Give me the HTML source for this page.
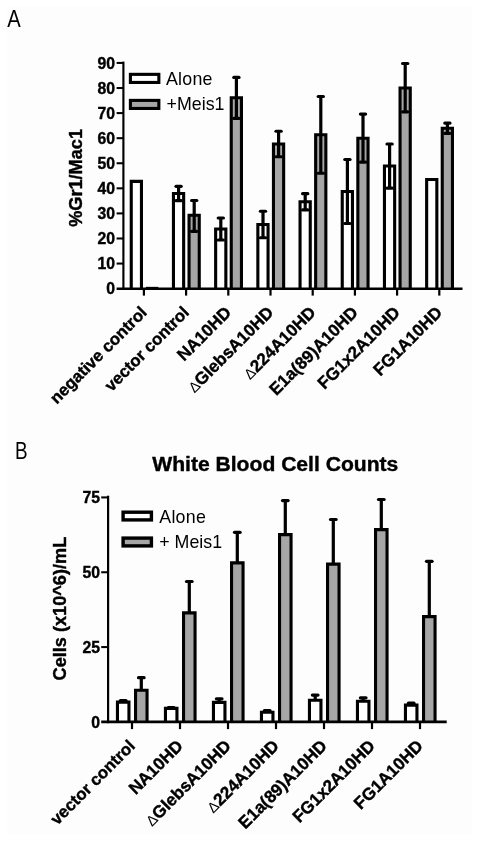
<!DOCTYPE html>
<html><head><meta charset="utf-8"><title>Figure</title>
<style>
html,body{margin:0;padding:0;background:#fff;}
body{width:480px;height:844px;overflow:hidden;font-family:"Liberation Sans",sans-serif;}
svg{display:block;will-change:transform;}
text{font-family:"Liberation Sans",sans-serif;fill:#000;}
.b{font-weight:bold;stroke:#000;stroke-width:0.4px;}
</style></head><body>
<svg width="480" height="844" viewBox="0 0 480 844">
<rect x="0" y="0" width="480" height="844" fill="#ffffff"/>
<rect x="7" y="7" width="465.5" height="827.5" fill="#fdfdfd"/>

<text transform="translate(7.2,26.7) scale(0.835,1)" font-size="24.2">A</text>
<text transform="translate(15.0,458.7) scale(0.78,1)" font-size="24.2">B</text>
<path d="M131.25,288.65V181.40H141.45V288.65" fill="#fff" stroke="#000" stroke-width="3.1" stroke-linejoin="miter"/>
<line x1="145.8" y1="287.54999999999995" x2="158.3" y2="287.54999999999995" stroke="#000" stroke-width="1.4"/>
<path d="M173.45,288.65V193.50H183.65V288.65" fill="#fff" stroke="#000" stroke-width="3.1" stroke-linejoin="miter"/>
<path d="M189.05,288.65V215.30H199.25V288.65" fill="#a6a6a6" stroke="#000" stroke-width="3.1" stroke-linejoin="miter"/>
<line x1="178.60" y1="186.30" x2="178.60" y2="200.70" stroke="#000" stroke-width="3.2"/>
<line x1="176.00" y1="186.30" x2="181.20" y2="186.30" stroke="#000" stroke-width="3.2" stroke-linecap="round"/>
<line x1="176.00" y1="200.70" x2="181.20" y2="200.70" stroke="#000" stroke-width="3.2" stroke-linecap="round"/>
<line x1="194.20" y1="200.50" x2="194.20" y2="231.30" stroke="#000" stroke-width="3.2"/>
<line x1="191.60" y1="200.50" x2="196.80" y2="200.50" stroke="#000" stroke-width="3.2" stroke-linecap="round"/>
<line x1="191.60" y1="231.30" x2="196.80" y2="231.30" stroke="#000" stroke-width="3.2" stroke-linecap="round"/>
<path d="M215.65,288.65V229.00H225.85V288.65" fill="#fff" stroke="#000" stroke-width="3.1" stroke-linejoin="miter"/>
<path d="M231.25,288.65V97.80H241.45V288.65" fill="#a6a6a6" stroke="#000" stroke-width="3.1" stroke-linejoin="miter"/>
<line x1="220.80" y1="218.00" x2="220.80" y2="240.00" stroke="#000" stroke-width="3.2"/>
<line x1="218.20" y1="218.00" x2="223.40" y2="218.00" stroke="#000" stroke-width="3.2" stroke-linecap="round"/>
<line x1="218.20" y1="240.00" x2="223.40" y2="240.00" stroke="#000" stroke-width="3.2" stroke-linecap="round"/>
<line x1="236.40" y1="77.40" x2="236.40" y2="118.40" stroke="#000" stroke-width="3.2"/>
<line x1="233.80" y1="77.40" x2="239.00" y2="77.40" stroke="#000" stroke-width="3.2" stroke-linecap="round"/>
<line x1="233.80" y1="118.40" x2="239.00" y2="118.40" stroke="#000" stroke-width="3.2" stroke-linecap="round"/>
<path d="M257.85,288.65V224.50H268.05V288.65" fill="#fff" stroke="#000" stroke-width="3.1" stroke-linejoin="miter"/>
<path d="M273.45,288.65V144.00H283.65V288.65" fill="#a6a6a6" stroke="#000" stroke-width="3.1" stroke-linejoin="miter"/>
<line x1="263.00" y1="211.25" x2="263.00" y2="237.75" stroke="#000" stroke-width="3.2"/>
<line x1="260.40" y1="211.25" x2="265.60" y2="211.25" stroke="#000" stroke-width="3.2" stroke-linecap="round"/>
<line x1="260.40" y1="237.75" x2="265.60" y2="237.75" stroke="#000" stroke-width="3.2" stroke-linecap="round"/>
<line x1="278.60" y1="131.25" x2="278.60" y2="156.75" stroke="#000" stroke-width="3.2"/>
<line x1="276.00" y1="131.25" x2="281.20" y2="131.25" stroke="#000" stroke-width="3.2" stroke-linecap="round"/>
<line x1="276.00" y1="156.75" x2="281.20" y2="156.75" stroke="#000" stroke-width="3.2" stroke-linecap="round"/>
<path d="M300.05,288.65V201.70H310.25V288.65" fill="#fff" stroke="#000" stroke-width="3.1" stroke-linejoin="miter"/>
<path d="M315.65,288.65V134.75H325.85V288.65" fill="#a6a6a6" stroke="#000" stroke-width="3.1" stroke-linejoin="miter"/>
<line x1="305.20" y1="193.70" x2="305.20" y2="209.90" stroke="#000" stroke-width="3.2"/>
<line x1="302.60" y1="193.70" x2="307.80" y2="193.70" stroke="#000" stroke-width="3.2" stroke-linecap="round"/>
<line x1="302.60" y1="209.90" x2="307.80" y2="209.90" stroke="#000" stroke-width="3.2" stroke-linecap="round"/>
<line x1="320.80" y1="96.50" x2="320.80" y2="173.25" stroke="#000" stroke-width="3.2"/>
<line x1="318.20" y1="96.50" x2="323.40" y2="96.50" stroke="#000" stroke-width="3.2" stroke-linecap="round"/>
<line x1="318.20" y1="173.25" x2="323.40" y2="173.25" stroke="#000" stroke-width="3.2" stroke-linecap="round"/>
<path d="M342.25,288.65V191.50H352.45V288.65" fill="#fff" stroke="#000" stroke-width="3.1" stroke-linejoin="miter"/>
<path d="M357.85,288.65V138.20H368.05V288.65" fill="#a6a6a6" stroke="#000" stroke-width="3.1" stroke-linejoin="miter"/>
<line x1="347.40" y1="159.50" x2="347.40" y2="223.50" stroke="#000" stroke-width="3.2"/>
<line x1="344.80" y1="159.50" x2="350.00" y2="159.50" stroke="#000" stroke-width="3.2" stroke-linecap="round"/>
<line x1="344.80" y1="223.50" x2="350.00" y2="223.50" stroke="#000" stroke-width="3.2" stroke-linecap="round"/>
<line x1="363.00" y1="114.10" x2="363.00" y2="162.20" stroke="#000" stroke-width="3.2"/>
<line x1="360.40" y1="114.10" x2="365.60" y2="114.10" stroke="#000" stroke-width="3.2" stroke-linecap="round"/>
<line x1="360.40" y1="162.20" x2="365.60" y2="162.20" stroke="#000" stroke-width="3.2" stroke-linecap="round"/>
<path d="M384.45,288.65V166.00H394.65V288.65" fill="#fff" stroke="#000" stroke-width="3.1" stroke-linejoin="miter"/>
<path d="M400.05,288.65V88.00H410.25V288.65" fill="#a6a6a6" stroke="#000" stroke-width="3.1" stroke-linejoin="miter"/>
<line x1="389.60" y1="144.00" x2="389.60" y2="188.20" stroke="#000" stroke-width="3.2"/>
<line x1="387.00" y1="144.00" x2="392.20" y2="144.00" stroke="#000" stroke-width="3.2" stroke-linecap="round"/>
<line x1="387.00" y1="188.20" x2="392.20" y2="188.20" stroke="#000" stroke-width="3.2" stroke-linecap="round"/>
<line x1="405.20" y1="63.50" x2="405.20" y2="111.80" stroke="#000" stroke-width="3.2"/>
<line x1="402.60" y1="63.50" x2="407.80" y2="63.50" stroke="#000" stroke-width="3.2" stroke-linecap="round"/>
<line x1="402.60" y1="111.80" x2="407.80" y2="111.80" stroke="#000" stroke-width="3.2" stroke-linecap="round"/>
<path d="M426.65,288.65V179.50H436.85V288.65" fill="#fff" stroke="#000" stroke-width="3.1" stroke-linejoin="miter"/>
<path d="M442.25,288.65V128.30H452.45V288.65" fill="#a6a6a6" stroke="#000" stroke-width="3.1" stroke-linejoin="miter"/>
<line x1="447.40" y1="123.10" x2="447.40" y2="133.30" stroke="#000" stroke-width="3.2"/>
<line x1="444.80" y1="123.10" x2="450.00" y2="123.10" stroke="#000" stroke-width="3.2" stroke-linecap="round"/>
<line x1="444.80" y1="133.30" x2="450.00" y2="133.30" stroke="#000" stroke-width="3.2" stroke-linecap="round"/>
<line x1="123.4" y1="61.6" x2="123.4" y2="289.9" stroke="#000" stroke-width="2.15"/>
<line x1="116.6" y1="288.65" x2="462.5" y2="288.65" stroke="#000" stroke-width="2.5"/>
<line x1="116.6" y1="263.57" x2="123.4" y2="263.57" stroke="#000" stroke-width="2.05"/>
<line x1="116.6" y1="238.49" x2="123.4" y2="238.49" stroke="#000" stroke-width="2.05"/>
<line x1="116.6" y1="213.41" x2="123.4" y2="213.41" stroke="#000" stroke-width="2.05"/>
<line x1="116.6" y1="188.33" x2="123.4" y2="188.33" stroke="#000" stroke-width="2.05"/>
<line x1="116.6" y1="163.25" x2="123.4" y2="163.25" stroke="#000" stroke-width="2.05"/>
<line x1="116.6" y1="138.17" x2="123.4" y2="138.17" stroke="#000" stroke-width="2.05"/>
<line x1="116.6" y1="113.09" x2="123.4" y2="113.09" stroke="#000" stroke-width="2.05"/>
<line x1="116.6" y1="88.01" x2="123.4" y2="88.01" stroke="#000" stroke-width="2.05"/>
<line x1="116.6" y1="62.93" x2="123.4" y2="62.93" stroke="#000" stroke-width="2.05"/>
<line x1="143.90" y1="288.65" x2="143.90" y2="295.6" stroke="#000" stroke-width="2.2"/>
<line x1="186.10" y1="288.65" x2="186.10" y2="295.6" stroke="#000" stroke-width="2.2"/>
<line x1="228.30" y1="288.65" x2="228.30" y2="295.6" stroke="#000" stroke-width="2.2"/>
<line x1="270.50" y1="288.65" x2="270.50" y2="295.6" stroke="#000" stroke-width="2.2"/>
<line x1="312.70" y1="288.65" x2="312.70" y2="295.6" stroke="#000" stroke-width="2.2"/>
<line x1="354.90" y1="288.65" x2="354.90" y2="295.6" stroke="#000" stroke-width="2.2"/>
<line x1="397.10" y1="288.65" x2="397.10" y2="295.6" stroke="#000" stroke-width="2.2"/>
<line x1="439.30" y1="288.65" x2="439.30" y2="295.6" stroke="#000" stroke-width="2.2"/>
<text class="b" transform="translate(115.0,294.45) scale(0.95,1)" font-size="16.6" text-anchor="end">0</text>
<text class="b" transform="translate(115.0,269.37) scale(0.95,1)" font-size="16.6" text-anchor="end">10</text>
<text class="b" transform="translate(115.0,244.29) scale(0.95,1)" font-size="16.6" text-anchor="end">20</text>
<text class="b" transform="translate(115.0,219.21) scale(0.95,1)" font-size="16.6" text-anchor="end">30</text>
<text class="b" transform="translate(115.0,194.13) scale(0.95,1)" font-size="16.6" text-anchor="end">40</text>
<text class="b" transform="translate(115.0,169.05) scale(0.95,1)" font-size="16.6" text-anchor="end">50</text>
<text class="b" transform="translate(115.0,143.97) scale(0.95,1)" font-size="16.6" text-anchor="end">60</text>
<text class="b" transform="translate(115.0,118.89) scale(0.95,1)" font-size="16.6" text-anchor="end">70</text>
<text class="b" transform="translate(115.0,93.81) scale(0.95,1)" font-size="16.6" text-anchor="end">80</text>
<text class="b" transform="translate(115.0,68.73) scale(0.95,1)" font-size="16.6" text-anchor="end">90</text>
<text class="b" transform="translate(81.7,177.9) rotate(-90)" font-size="18.15" text-anchor="middle">%Gr1/Mac1</text>
<rect x="130.4" y="74.35" width="28.45" height="8.1" fill="#fff" stroke="#000" stroke-width="3.1"/>
<rect x="130.4" y="100.4" width="28.45" height="8.05" fill="#a6a6a6" stroke="#000" stroke-width="3.1"/>
<text x="166" y="84.8" font-size="17.8" letter-spacing="0.25">Alone</text>
<text x="166.6" y="110.2" font-size="17.8">+Meis1</text>
<text class="b" transform="translate(147.90,313.50) rotate(-45)" font-size="16.7" text-anchor="end">negative control</text>
<text class="b" transform="translate(190.10,313.50) rotate(-45)" font-size="16.7" text-anchor="end">vector control</text>
<text class="b" transform="translate(232.30,313.50) rotate(-45)" font-size="17.1" text-anchor="end">NA10HD</text>
<text class="b" transform="translate(274.50,313.50) rotate(-45)" font-size="17.1" text-anchor="end"><tspan font-weight="normal" font-size="14.6" stroke="none">Δ</tspan>GlebsA10HD</text>
<text class="b" transform="translate(316.70,313.50) rotate(-45)" font-size="17.1" text-anchor="end"><tspan font-weight="normal" font-size="14.6" stroke="none">Δ</tspan>224A10HD</text>
<text class="b" transform="translate(358.90,313.50) rotate(-45)" font-size="17.1" text-anchor="end">E1a(89)A10HD</text>
<text class="b" transform="translate(401.10,313.50) rotate(-45)" font-size="17.1" text-anchor="end">FG1x2A10HD</text>
<text class="b" transform="translate(443.30,313.50) rotate(-45)" font-size="17.1" text-anchor="end">FG1A10HD</text>
<text class="b" x="275.3" y="470.6" font-size="21.1" text-anchor="middle">White Blood Cell Counts</text>
<path d="M117.45,721.90V702.10H128.95V721.90" fill="#fff" stroke="#000" stroke-width="3.1" stroke-linejoin="miter"/>
<path d="M135.55,721.90V690.20H147.05V721.90" fill="#a6a6a6" stroke="#000" stroke-width="3.1" stroke-linejoin="miter"/>
<line x1="123.20" y1="700.50" x2="123.20" y2="702.10" stroke="#000" stroke-width="3.2"/>
<line x1="120.40" y1="700.50" x2="126.00" y2="700.50" stroke="#000" stroke-width="3.2" stroke-linecap="round"/>
<line x1="141.30" y1="677.70" x2="141.30" y2="690.20" stroke="#000" stroke-width="3.2"/>
<line x1="138.50" y1="677.70" x2="144.10" y2="677.70" stroke="#000" stroke-width="3.2" stroke-linecap="round"/>
<path d="M165.45,721.90V708.40H176.95V721.90" fill="#fff" stroke="#000" stroke-width="3.1" stroke-linejoin="miter"/>
<path d="M183.55,721.90V612.90H195.05V721.90" fill="#a6a6a6" stroke="#000" stroke-width="3.1" stroke-linejoin="miter"/>
<line x1="171.20" y1="707.50" x2="171.20" y2="708.40" stroke="#000" stroke-width="3.2"/>
<line x1="168.40" y1="707.50" x2="174.00" y2="707.50" stroke="#000" stroke-width="3.2" stroke-linecap="round"/>
<line x1="189.30" y1="581.50" x2="189.30" y2="612.90" stroke="#000" stroke-width="3.2"/>
<line x1="186.50" y1="581.50" x2="192.10" y2="581.50" stroke="#000" stroke-width="3.2" stroke-linecap="round"/>
<path d="M213.45,721.90V702.40H224.95V721.90" fill="#fff" stroke="#000" stroke-width="3.1" stroke-linejoin="miter"/>
<path d="M231.55,721.90V562.90H243.05V721.90" fill="#a6a6a6" stroke="#000" stroke-width="3.1" stroke-linejoin="miter"/>
<line x1="219.20" y1="698.80" x2="219.20" y2="702.40" stroke="#000" stroke-width="3.2"/>
<line x1="216.40" y1="698.80" x2="222.00" y2="698.80" stroke="#000" stroke-width="3.2" stroke-linecap="round"/>
<line x1="237.30" y1="532.30" x2="237.30" y2="562.90" stroke="#000" stroke-width="3.2"/>
<line x1="234.50" y1="532.30" x2="240.10" y2="532.30" stroke="#000" stroke-width="3.2" stroke-linecap="round"/>
<path d="M261.45,721.90V712.20H272.95V721.90" fill="#fff" stroke="#000" stroke-width="3.1" stroke-linejoin="miter"/>
<path d="M279.55,721.90V534.60H291.05V721.90" fill="#a6a6a6" stroke="#000" stroke-width="3.1" stroke-linejoin="miter"/>
<line x1="267.20" y1="710.60" x2="267.20" y2="712.20" stroke="#000" stroke-width="3.2"/>
<line x1="264.40" y1="710.60" x2="270.00" y2="710.60" stroke="#000" stroke-width="3.2" stroke-linecap="round"/>
<line x1="285.30" y1="500.60" x2="285.30" y2="534.60" stroke="#000" stroke-width="3.2"/>
<line x1="282.50" y1="500.60" x2="288.10" y2="500.60" stroke="#000" stroke-width="3.2" stroke-linecap="round"/>
<path d="M309.45,721.90V700.20H320.95V721.90" fill="#fff" stroke="#000" stroke-width="3.1" stroke-linejoin="miter"/>
<path d="M327.55,721.90V564.10H339.05V721.90" fill="#a6a6a6" stroke="#000" stroke-width="3.1" stroke-linejoin="miter"/>
<line x1="315.20" y1="695.10" x2="315.20" y2="700.20" stroke="#000" stroke-width="3.2"/>
<line x1="312.40" y1="695.10" x2="318.00" y2="695.10" stroke="#000" stroke-width="3.2" stroke-linecap="round"/>
<line x1="333.30" y1="519.50" x2="333.30" y2="564.10" stroke="#000" stroke-width="3.2"/>
<line x1="330.50" y1="519.50" x2="336.10" y2="519.50" stroke="#000" stroke-width="3.2" stroke-linecap="round"/>
<path d="M357.45,721.90V701.20H368.95V721.90" fill="#fff" stroke="#000" stroke-width="3.1" stroke-linejoin="miter"/>
<path d="M375.55,721.90V529.60H387.05V721.90" fill="#a6a6a6" stroke="#000" stroke-width="3.1" stroke-linejoin="miter"/>
<line x1="363.20" y1="697.80" x2="363.20" y2="701.20" stroke="#000" stroke-width="3.2"/>
<line x1="360.40" y1="697.80" x2="366.00" y2="697.80" stroke="#000" stroke-width="3.2" stroke-linecap="round"/>
<line x1="381.30" y1="499.50" x2="381.30" y2="529.60" stroke="#000" stroke-width="3.2"/>
<line x1="378.50" y1="499.50" x2="384.10" y2="499.50" stroke="#000" stroke-width="3.2" stroke-linecap="round"/>
<path d="M405.45,721.90V705.10H416.95V721.90" fill="#fff" stroke="#000" stroke-width="3.1" stroke-linejoin="miter"/>
<path d="M423.55,721.90V616.60H435.05V721.90" fill="#a6a6a6" stroke="#000" stroke-width="3.1" stroke-linejoin="miter"/>
<line x1="411.20" y1="703.20" x2="411.20" y2="705.10" stroke="#000" stroke-width="3.2"/>
<line x1="408.40" y1="703.20" x2="414.00" y2="703.20" stroke="#000" stroke-width="3.2" stroke-linecap="round"/>
<line x1="429.30" y1="561.30" x2="429.30" y2="616.60" stroke="#000" stroke-width="3.2"/>
<line x1="426.50" y1="561.30" x2="432.10" y2="561.30" stroke="#000" stroke-width="3.2" stroke-linecap="round"/>
<line x1="108.1" y1="495.7" x2="108.1" y2="723.1999999999999" stroke="#000" stroke-width="2.2"/>
<line x1="101.2" y1="721.9" x2="446.7" y2="721.9" stroke="#000" stroke-width="2.6"/>
<line x1="101.2" y1="647.07" x2="108.1" y2="647.07" stroke="#000" stroke-width="2.05"/>
<line x1="101.2" y1="572.25" x2="108.1" y2="572.25" stroke="#000" stroke-width="2.05"/>
<line x1="101.2" y1="497.42" x2="108.1" y2="497.42" stroke="#000" stroke-width="2.05"/>
<line x1="132.00" y1="721.9" x2="132.00" y2="729.1" stroke="#000" stroke-width="2.2"/>
<line x1="180.00" y1="721.9" x2="180.00" y2="729.1" stroke="#000" stroke-width="2.2"/>
<line x1="228.00" y1="721.9" x2="228.00" y2="729.1" stroke="#000" stroke-width="2.2"/>
<line x1="276.00" y1="721.9" x2="276.00" y2="729.1" stroke="#000" stroke-width="2.2"/>
<line x1="324.00" y1="721.9" x2="324.00" y2="729.1" stroke="#000" stroke-width="2.2"/>
<line x1="372.00" y1="721.9" x2="372.00" y2="729.1" stroke="#000" stroke-width="2.2"/>
<line x1="420.00" y1="721.9" x2="420.00" y2="729.1" stroke="#000" stroke-width="2.2"/>
<text class="b" transform="translate(100.0,727.60) scale(0.95,1)" font-size="16.6" text-anchor="end">0</text>
<text class="b" transform="translate(100.0,652.77) scale(0.95,1)" font-size="16.6" text-anchor="end">25</text>
<text class="b" transform="translate(100.0,577.95) scale(0.95,1)" font-size="16.6" text-anchor="end">50</text>
<text class="b" transform="translate(100.0,503.12) scale(0.95,1)" font-size="16.6" text-anchor="end">75</text>
<text class="b" transform="translate(65.6,608.6) rotate(-90)" font-size="18.15" text-anchor="middle">Cells (x10^6)/mL</text>
<rect x="123.1" y="512.2" width="28.3" height="7.7" fill="#fff" stroke="#000" stroke-width="3.4"/>
<rect x="123.1" y="538.1" width="28.3" height="7.8" fill="#a6a6a6" stroke="#000" stroke-width="3.4"/>
<text x="159.3" y="522.6" font-size="17.8" letter-spacing="0.25">Alone</text>
<text x="159.3" y="548.2" font-size="17.8">+ Meis1</text>
<text class="b" transform="translate(136.00,747.00) rotate(-45)" font-size="16.7" text-anchor="end">vector control</text>
<text class="b" transform="translate(184.00,747.00) rotate(-45)" font-size="17.1" text-anchor="end">NA10HD</text>
<text class="b" transform="translate(232.00,747.00) rotate(-45)" font-size="17.1" text-anchor="end"><tspan font-weight="normal" font-size="14.6" stroke="none">Δ</tspan>GlebsA10HD</text>
<text class="b" transform="translate(280.00,747.00) rotate(-45)" font-size="17.1" text-anchor="end"><tspan font-weight="normal" font-size="14.6" stroke="none">Δ</tspan>224A10HD</text>
<text class="b" transform="translate(328.00,747.00) rotate(-45)" font-size="17.1" text-anchor="end">E1a(89)A10HD</text>
<text class="b" transform="translate(376.00,747.00) rotate(-45)" font-size="17.1" text-anchor="end">FG1x2A10HD</text>
<text class="b" transform="translate(424.00,747.00) rotate(-45)" font-size="17.1" text-anchor="end">FG1A10HD</text>
</svg>
</body></html>
